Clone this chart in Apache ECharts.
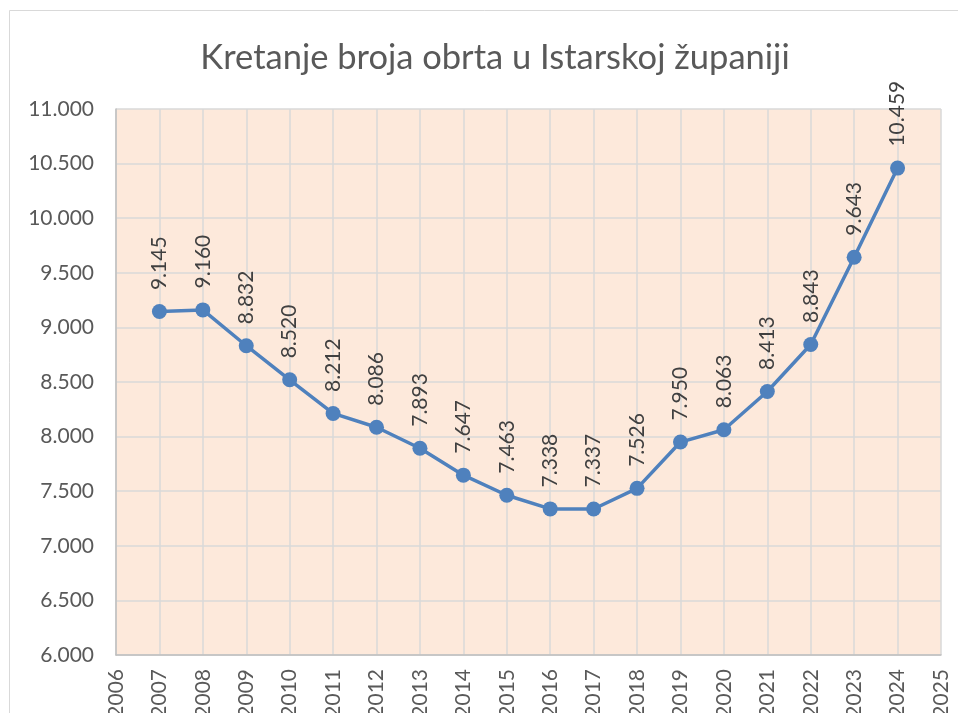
<!DOCTYPE html>
<html>
<head>
<meta charset="utf-8">
<script src="https://cdn.jsdelivr.net/npm/echarts@6/dist/echarts.min.js"></script>
<style>
  html, body { margin: 0; padding: 0; background: #fff; }
  #chart { width: 958px; height: 713px; }
</style>
</head>
<body>
<div id="chart"></div>
<script>
// podaci
const years = [2007, 2008, 2009, 2010, 2011, 2012, 2013, 2014, 2015, 2016, 2017, 2018, 2019, 2020, 2021, 2022, 2023, 2024];
const obrti = [9145, 9160, 8832, 8520, 8212, 8086, 7893, 7647, 7463, 7338, 7337, 7526, 7950, 8063, 8413, 8843, 9643, 10459];
const titleText = "Kretanje broja obrta u Istarskoj županiji";

const fmt = (v) => {
  const s = String(Math.round(v));
  return s.replace(/\B(?=(\d{3})+(?!\d))/g, ".");
};

const chart = echarts.init(document.getElementById("chart"), null, { renderer: "canvas" });

const option = {
  backgroundColor: "#fff",
  textStyle: { fontFamily: "Lato, Open Sans, sans-serif" },
  graphic: [
    {
      type: "rect",
      shape: { x: 9.5, y: 10.5, width: 980, height: 740 },
      style: { fill: "none", stroke: "#d9d9d9", lineWidth: 1 },
      silent: true
    }
  ],
  title: {
    text: titleText,
    left: 490,
    top: 35,
    textAlign: "center",
    textStyle: { fontSize: 34.5, fontWeight: "normal", color: "#595959" }
  },
  grid: {
    left: 116,
    right: 17,
    top: 109,
    bottom: 58,
    outerBoundsMode: "none",
    containLabel: false,
    show: true,
    backgroundColor: "#fde9db",
    borderWidth: 0
  },
  xAxis: {
    type: "value",
    min: 2006,
    max: 2025,
    interval: 1,
    axisLine: { show: true, lineStyle: { color: "#bfbfbf", width: 1.5 } },
    axisTick: { show: false },
    splitLine: { show: true, lineStyle: { color: "#d9d9d9", width: 1.5 } },
    axisLabel: {
      rotate: 90,
      margin: 14,
      fontSize: 21,
      color: "#595959",
      formatter: (v) => String(v)
    }
  },
  yAxis: {
    type: "value",
    min: 6000,
    max: 11000,
    interval: 500,
    axisLine: { show: true, lineStyle: { color: "#bfbfbf", width: 1.5 } },
    axisTick: { show: false },
    splitLine: { show: true, lineStyle: { color: "#d9d9d9", width: 1.5 } },
    axisLabel: {
      margin: 22,
      fontSize: 21,
      color: "#595959",
      formatter: (v) => fmt(v)
    }
  },
  series: [
    {
      type: "line",
      data: years.map((y, i) => [y, obrti[i]]),
      symbol: "circle",
      symbolSize: 15,
      lineStyle: { color: "#4f81bd", width: 3.5 },
      itemStyle: { color: "#4f81bd" },
      label: {
        show: true,
        position: "top",
        rotate: 90,
        align: "left",
        verticalAlign: "middle",
        distance: 14,
        fontSize: 21,
        color: "#404040",
        formatter: (p) => fmt(p.value[1])
      }
    }
  ]
};

option && chart.setOption(option);
</script>
</body>
</html>
